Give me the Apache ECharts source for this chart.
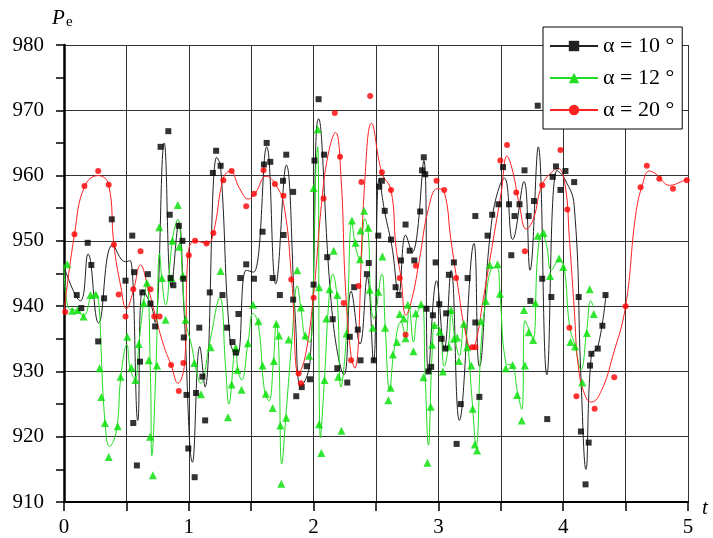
<!DOCTYPE html>
<html><head><meta charset="utf-8">
<script src="https://cdn.jsdelivr.net/npm/echarts@6/dist/echarts.min.js"></script>
<style>html,body{margin:0;padding:0;background:#fff}#c{width:713px;height:538px}</style>
</head><body><div id="c"></div>
<script>
const xTicks = [0,1,2,3,4,5];
const yTicks = [910,920,930,940,950,960,970,980];
const seriesNames = ['α = 10 °','α = 12 °','α = 20 °'];

const black10Points = [[0.102,941.7],[0.139,939.7],[0.19,949.7],[0.219,946.3],[0.274,934.6],[0.321,941.2],[0.383,953.3],[0.493,943.9],[0.547,950.8],[0.555,922.1],[0.562,945.2],[0.584,915.6],[0.609,931.5],[0.628,942.1],[0.672,944.9],[0.693,940.4],[0.73,936.9],[0.774,964.4],[0.836,966.8],[0.847,954.0],[0.854,944.3],[0.876,943.2],[0.92,952.3],[0.949,950.0],[0.956,944.2],[0.96,935.2],[0.982,926.4],[0.996,918.2],[1.047,913.8],[1.058,926.7],[1.084,936.7],[1.109,929.2],[1.131,922.5],[1.168,942.1],[1.193,960.4],[1.219,963.8],[1.255,961.5],[1.27,941.7],[1.307,936.7],[1.35,934.5],[1.376,932.9],[1.398,938.8],[1.412,944.3],[1.46,946.4],[1.522,944.2],[1.591,951.4],[1.602,961.7],[1.624,965.0],[1.653,962.1],[1.672,944.3],[1.73,941.7],[1.755,959.2],[1.759,950.9],[1.781,963.2],[1.836,957.5],[1.836,941.0],[1.861,926.2],[1.905,927.6],[1.945,930.8],[1.971,928.8],[2.0,943.3],[2.007,962.3],[2.04,971.7],[2.084,963.2],[2.109,947.5],[2.153,938.0],[2.19,930.5],[2.27,928.3],[2.29,935.3],[2.325,942.9],[2.354,936.4],[2.376,931.7],[2.427,944.9],[2.442,946.6],[2.482,931.7],[2.518,950.8],[2.526,958.3],[2.547,959.2],[2.57,954.6],[2.62,950.2],[2.657,942.9],[2.682,941.7],[2.7,947.0],[2.737,952.5],[2.77,948.5],[2.807,947.0],[2.854,954.5],[2.869,960.8],[2.883,962.8],[2.894,960.2],[2.905,939.6],[2.92,930.0],[2.942,930.7],[2.956,938.6],[2.978,946.7],[3.007,940.3],[3.026,935.0],[3.055,933.5],[3.062,938.9],[3.084,944.8],[3.124,946.7],[3.146,918.9],[3.179,925.0],[3.234,944.3],[3.296,953.8],[3.296,937.5],[3.328,926.1],[3.394,950.8],[3.431,954.0],[3.482,955.6],[3.518,961.3],[3.566,955.6],[3.584,947.8],[3.61,953.8],[3.65,955.6],[3.69,960.8],[3.723,953.8],[3.737,940.8],[3.766,956.1],[3.796,970.7],[3.832,944.2],[3.872,922.7],[3.905,941.4],[3.916,959.8],[3.942,961.4],[3.978,957.8],[4.018,960.7],[4.088,959.0],[4.124,941.4],[4.142,920.8],[4.179,912.7],[4.204,919.1],[4.215,930.9],[4.226,932.7],[4.277,933.5],[4.314,937.0],[4.339,941.7]];

const black10Curve = [[0,946.0],[0.131,940.8],[0.193,948.0],[0.277,937.4],[0.39,949.4],[0.493,946.8],[0.53,947.0],[0.591,922.5],[0.63,942.5],[0.70,940.0],[0.73,937.5],[0.803,965.0],[0.86,943.0],[0.92,952.8],[0.96,940],[1.03,916.1],[1.088,933.8],[1.13,927.6],[1.223,962.8],[1.255,961.4],[1.332,934.5],[1.387,932.4],[1.46,945.5],[1.52,945.2],[1.624,964.4],[1.697,943.4],[1.781,961.6],[1.854,938.1],[1.898,927.7],[1.971,931.3],[2.04,968.7],[2.153,938.1],[2.245,929.5],[2.30,942.3],[2.372,934.2],[2.43,944.5],[2.48,931.5],[2.526,959.6],[2.57,954.4],[2.628,949.1],[2.682,941.8],[2.737,950.9],[2.79,948.2],[2.883,962.3],[2.92,929.7],[2.985,943.9],[3.047,933.4],[3.102,945.5],[3.168,922.5],[3.285,949.6],[3.328,930.8],[3.43,953.4],[3.53,959.6],[3.595,950.2],[3.686,959.1],[3.734,945.5],[3.80,964.4],[3.869,929.5],[3.95,960.8],[4.015,959.4],[4.088,955.4],[4.142,929.2],[4.182,915.0],[4.226,932.6],[4.277,933.7],[4.343,941.8]];

const green12Points = [[0.026,946.4],[0.066,939.3],[0.11,939.4],[0.157,938.4],[0.212,941.7],[0.255,941.8],[0.285,930.5],[0.299,926.1],[0.328,922.1],[0.358,916.9],[0.43,921.6],[0.453,929.2],[0.507,935.3],[0.54,930.6],[0.573,928.7],[0.599,934.2],[0.639,940.5],[0.664,943.6],[0.679,931.7],[0.69,920.0],[0.712,914.1],[0.745,930.9],[0.763,952.1],[0.785,944.3],[0.814,937.9],[0.861,944.3],[0.869,950.0],[0.912,955.5],[0.923,949.1],[0.953,944.7],[0.974,937.9],[1.044,931.3],[1.098,926.5],[1.175,933.7],[1.255,945.4],[1.314,923.0],[1.343,928.0],[1.376,933.6],[1.39,930.2],[1.423,927.2],[1.474,934.3],[1.515,940.2],[1.558,937.7],[1.591,930.9],[1.617,926.6],[1.672,924.4],[1.682,931.6],[1.701,937.3],[1.723,935.5],[1.734,921.7],[1.741,912.8],[1.781,922.9],[1.80,934.9],[1.869,945.5],[1.898,939.8],[1.934,935.5],[1.964,932.4],[2.0,958.1],[2.033,967.1],[2.044,942.9],[2.044,921.9],[2.062,917.5],[2.088,928.7],[2.102,938.1],[2.128,942.6],[2.161,948.5],[2.19,941.7],[2.197,929.2],[2.223,920.9],[2.263,935.8],[2.307,953.1],[2.336,949.7],[2.372,947.2],[2.376,951.6],[2.405,954.6],[2.438,952.0],[2.449,942.5],[2.474,936.7],[2.518,942.2],[2.551,947.6],[2.573,936.7],[2.599,925.6],[2.617,927.5],[2.635,932.6],[2.668,934.5],[2.69,938.8],[2.723,938.1],[2.737,935.1],[2.755,940.2],[2.8,933.1],[2.818,938.9],[2.861,940.3],[2.88,929.1],[2.912,916.0],[2.938,924.6],[2.949,934.1],[2.967,937.1],[3.011,936.1],[3.036,930.0],[3.084,933.8],[3.102,939.4],[3.124,935.0],[3.15,935.2],[3.164,931.6],[3.204,937.3],[3.23,933.7],[3.263,930.9],[3.274,924.3],[3.292,918.8],[3.31,917.9],[3.34,937.7],[3.38,940.8],[3.412,946.3],[3.474,946.4],[3.493,941.9],[3.54,930.5],[3.595,931.0],[3.631,926.4],[3.668,922.5],[3.686,939.4],[3.693,930.9],[3.723,936.0],[3.759,934.8],[3.777,940.5],[3.796,950.8],[3.843,951.2],[3.894,944.6],[3.967,947.3],[4.0,946.0],[4.058,934.5],[4.095,933.8],[4.153,928.3],[4.19,935.9],[4.212,942.6],[4.245,938.8]];

const green12Curve = [[0,946.5],[0.036,939.7],[0.09,939.4],[0.157,938.6],[0.219,941.5],[0.255,941.9],[0.328,922.4],[0.365,918.5],[0.42,920.9],[0.456,929.3],[0.504,934.1],[0.53,930.4],[0.57,928.8],[0.602,934.6],[0.639,940.8],[0.664,943.6],[0.693,929.2],[0.704,917.1],[0.737,930.7],[0.766,948.1],[0.785,943.9],[0.814,940.2],[0.869,950.2],[0.912,953.3],[0.949,944.9],[0.974,937.9],[1.022,934.0],[1.058,930.3],[1.095,928.2],[1.168,934.5],[1.248,941.3],[1.296,930.3],[1.321,925.0],[1.376,933.9],[1.394,930.2],[1.423,928.7],[1.478,935.0],[1.515,938.9],[1.558,937.1],[1.606,927.1],[1.642,925.5],[1.679,931.8],[1.701,937.3],[1.72,934],[1.745,915.8],[1.781,924.0],[1.825,934.5],[1.869,943.1],[1.898,939.7],[1.934,935.0],[1.971,934.5],[2.018,961.2],[2.033,964.4],[2.055,919.8],[2.088,929.2],[2.124,941.3],[2.153,944.9],[2.19,940.8],[2.219,927.6],[2.263,935.5],[2.307,952.8],[2.336,949.1],[2.372,947.0],[2.41,953.4],[2.438,951.3],[2.456,941.8],[2.482,938.1],[2.547,944.9],[2.573,937.1],[2.609,927.1],[2.646,933.4],[2.70,937.6],[2.737,935.5],[2.766,939.7],[2.80,934.5],[2.832,938.9],[2.869,940.2],[2.894,929.2],[2.92,918.7],[2.949,932.4],[2.975,937.1],[3.011,936.6],[3.047,930.8],[3.084,934.5],[3.102,939.2],[3.131,935.2],[3.168,932.4],[3.204,937.1],[3.241,932.9],[3.266,926.6],[3.303,918.7],[3.343,934.5],[3.38,940.8],[3.423,945.7],[3.467,946.0],[3.493,941.8],[3.54,931.3],[3.595,930.8],[3.631,927.1],[3.668,924.2],[3.693,937.8],[3.723,936.6],[3.759,935.0],[3.796,948.1],[3.832,951.3],[3.869,949.1],[3.905,945.5],[3.967,947.0],[4.007,946.0],[4.05,937.1],[4.095,933.9],[4.142,930.3],[4.19,936.6],[4.22,940.8],[4.245,939.8]];

const red20Points = [[0.01,939.1],[0.084,951.0],[0.164,958.4],[0.274,960.7],[0.358,958.6],[0.40,949.4],[0.438,941.8],[0.493,938.4],[0.555,942.6],[0.613,948.4],[0.693,942.6],[0.723,938.4],[0.766,938.4],[0.858,931.0],[0.92,927.0],[0.956,931.3],[1.0,947.8],[1.05,950.0],[1.142,949.6],[1.197,951.2],[1.277,959.3],[1.343,960.7],[1.46,955.3],[1.522,957.2],[1.599,960.8],[1.69,958.7],[1.759,956.9],[1.821,944.1],[1.88,929.7],[1.898,928.2],[2.0,941.3],[2.08,956.5],[2.17,969.6],[2.212,962.9],[2.241,940.5],[2.30,931.7],[2.36,943.1],[2.383,959.0],[2.453,972.2],[2.547,960.5],[2.62,957.8],[2.69,944.3],[2.737,935.6],[2.82,946.2],[2.985,959.2],[3.047,957.8],[3.142,944.3],[3.27,933.7],[3.296,933.7],[3.496,962.3],[3.55,964.7],[3.624,957.4],[3.693,948.4],[3.832,958.5],[3.978,963.9],[4.033,954.8],[4.05,936.7],[4.106,926.2],[4.252,924.3],[4.409,929.1],[4.5,940.0],[4.62,958.2],[4.67,961.5],[4.77,959.5],[4.88,958.0],[4.99,959.3]];

const red20Curve = [[0,939.1],[0.084,951.0],[0.164,958.3],[0.274,960.0],[0.358,958.6],[0.40,949.4],[0.456,942.9],[0.50,939.6],[0.555,942.3],[0.613,946.3],[0.675,942.7],[0.73,938.7],[0.80,933.9],[0.858,931.0],[0.912,928.2],[0.967,931.3],[0.993,947.8],[1.05,950.0],[1.15,949.6],[1.197,951.2],[1.277,959.6],[1.332,960.7],[1.405,958.1],[1.478,956.4],[1.533,957.3],[1.62,959.9],[1.697,958.6],[1.763,955.4],[1.825,943.9],[1.88,929.6],[1.934,932.4],[2.0,941.8],[2.062,955.4],[2.117,963.3],[2.175,966.6],[2.22,959.6],[2.255,942.9],[2.30,932.4],[2.33,930.5],[2.41,959.1],[2.464,968.0],[2.547,960.4],[2.62,957.8],[2.66,949.1],[2.70,944.4],[2.74,938.6],[2.79,941.3],[2.847,947.0],[2.92,954.9],[2.993,958.0],[3.047,957.5],[3.10,950.2],[3.157,942.9],[3.21,936.6],[3.265,933.5],[3.30,934.5],[3.357,940.8],[3.43,949.1],[3.504,957.5],[3.55,963.0],[3.595,960.7],[3.65,955.4],[3.704,951.8],[3.76,953.3],[3.832,958.6],[3.923,960.8],[3.96,961.1],[4.015,958.6],[4.05,950.2],[4.088,939.7],[4.124,930.3],[4.18,926.1],[4.226,925.3],[4.307,927.1],[4.398,932.4],[4.5,940.0],[4.58,953.9],[4.635,958.6],[4.69,960.7],[4.745,960.2],[4.855,958.5],[4.95,959.1],[5.0,959.5]];

const SERIF = 'Times New Roman, Liberation Serif, serif';
const chart = echarts.init(document.getElementById('c'), null, {renderer:'canvas'});

function curve(name, data, color, sym, symSize) {
  return {name, type:'line', data, smooth:0.45, showSymbol:false, symbol:sym, symbolSize:symSize,
    lineStyle:{color, width:1}, itemStyle:{color}, silent:true, z:2, animation:false};
}
function pts(name, data, color, sym, size) {
  return {name, type:'scatter', data, symbol:sym, symbolSize:size, itemStyle:{color}, z:3, animation:false};
}

chart.setOption({
  animation:false,
  backgroundColor:'#fff',
  grid:{left:64, right:25, top:45, bottom:34},
  xAxis:{type:'value', min:0, max:5, interval:0.5,
    axisLine:{show:true, onZero:false, lineStyle:{color:'#000', width:2}},
    axisTick:{show:true, length:9, lineStyle:{color:'#000', width:1.5}},
    axisLabel:{margin:15, color:'#000', fontFamily:SERIF, fontSize:21,
      formatter:v => xTicks.includes(v) ? String(v) : ''},
    splitLine:{show:true, lineStyle:{color:'#333', width:1}}},
  yAxis:{type:'value', min:910, max:980, interval:10,
    axisLine:{show:true, lineStyle:{color:'#000', width:2.5}},
    axisTick:{show:true, length:8, lineStyle:{color:'#000', width:1.5}},
    minorTick:{show:true, splitNumber:2, length:8, lineStyle:{color:'#000', width:1.5}},
    axisLabel:{margin:20, color:'#000', fontFamily:SERIF, fontSize:21,
      formatter:v => yTicks.includes(v) ? String(v) : ''},
    splitLine:{show:true, lineStyle:{color:'#333', width:1}}},
  legend:{data:seriesNames, orient:'vertical', left:543, top:27,
    backgroundColor:'#fff', borderColor:'#000', borderWidth:1,
    padding:[8,8,8,6], itemWidth:48, itemHeight:13, itemGap:10,
    textStyle:{fontFamily:SERIF, fontSize:22, color:'#000'}},
  graphic:[
    {type:'text', left:52, top:8, style:{text:'P', fontFamily:SERIF, fontStyle:'italic', fontSize:21, fill:'#000'}},
    {type:'text', left:66, top:15, style:{text:'e', fontFamily:SERIF, fontSize:15, fill:'#000'}},
    {type:'text', left:702, top:498, style:{text:'t', fontFamily:SERIF, fontStyle:'italic', fontSize:21, fill:'#000'}}
  ],
  series:[
    curve(seriesNames[0], black10Curve, '#222', 'rect', 9),
    curve(seriesNames[1], green12Curve, '#22dd22', 'triangle', 9),
    curve(seriesNames[2], red20Curve, '#ff2020', 'circle', 9),
    pts(seriesNames[1], green12Points, '#00e000', 'triangle', 8),
    pts(seriesNames[0], black10Points, '#000', 'rect', 6),
    pts(seriesNames[2], red20Points, '#ff0000', 'circle', 6)
  ]
});
</script></body></html>
